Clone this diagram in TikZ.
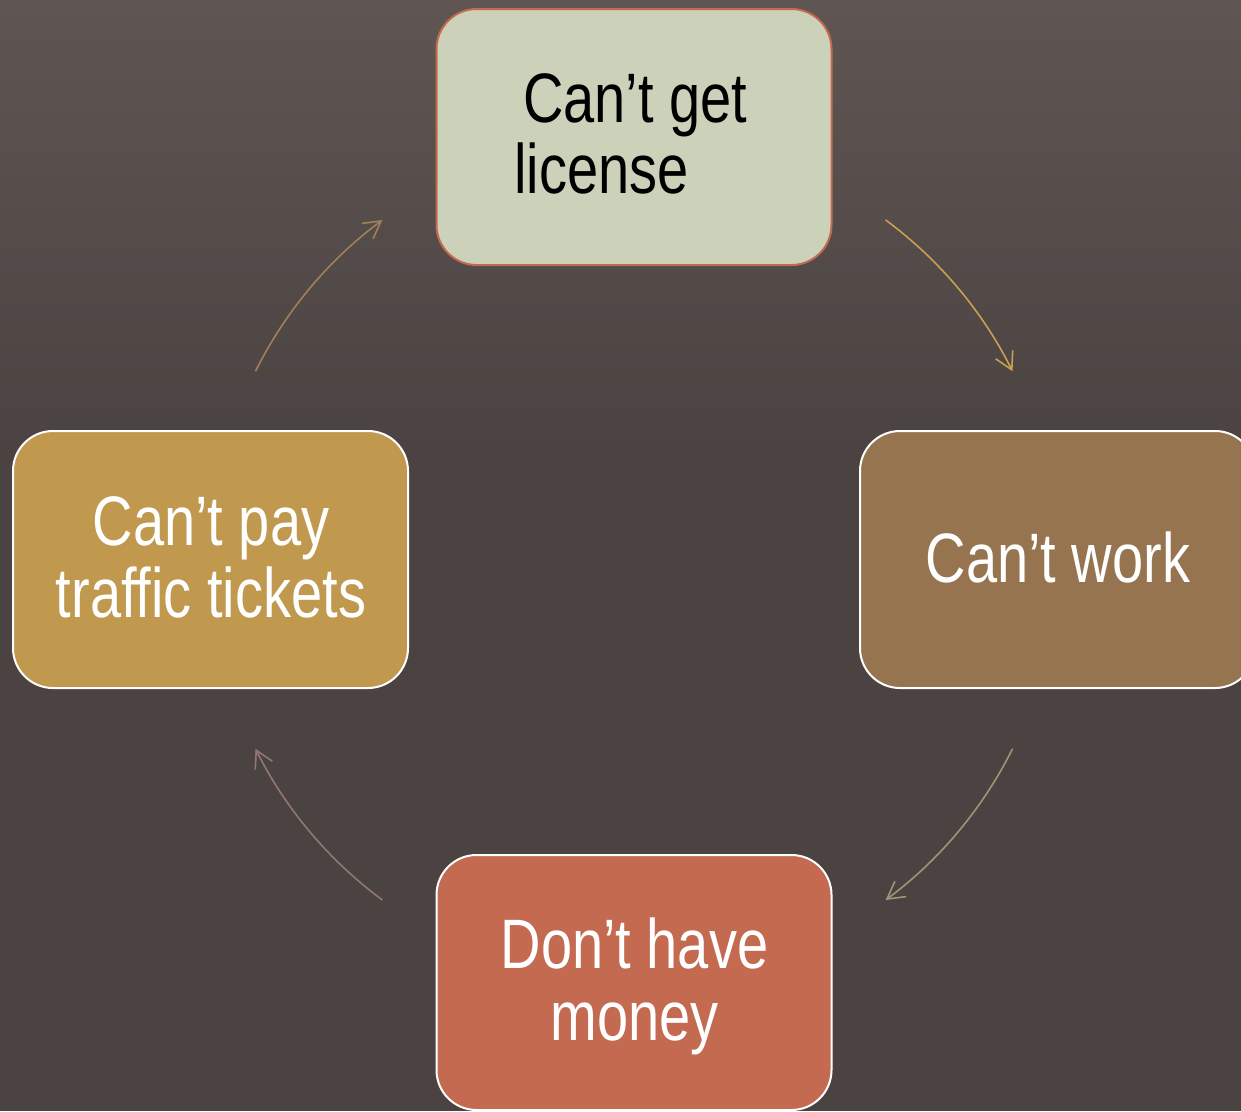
\documentclass[tikz,border=0pt]{standalone}
\usepackage{fontspec}
\setmainfont{Liberation Sans}[FakeStretch=0.8]
\usetikzlibrary{arrows.meta,calc}

\definecolor{bgtop}{HTML}{5F5654}
\definecolor{bgmid}{HTML}{4B4341}
\definecolor{sage}{HTML}{CCD1B9}
\definecolor{rust}{HTML}{C46A51}
\definecolor{umber}{HTML}{95744F}
\definecolor{ochre}{HTML}{C0984E}
\definecolor{rustedge}{HTML}{C3694F}
\definecolor{arrA}{HTML}{A08058}
\definecolor{arrB}{HTML}{C9A050}
\definecolor{arrC}{HTML}{9C9578}
\definecolor{arrD}{HTML}{917672}

\tikzset{
  card/.style={rectangle, rounded corners=40pt, line width=2pt,
    minimum width=395pt, minimum height=256pt, inner sep=0pt},
  lbl/.style={font=\fontsize{70}{72}\selectfont, inner sep=0pt, anchor=base},
  cyc/.style={line width=1.6pt, -{Straight Barb[length=17pt,width=19pt]}},
}

\begin{document}
\begin{tikzpicture}[x=1pt,y=-1pt]
  \useasboundingbox (0,0) rectangle (1241,1111);
  \clip (0,0) rectangle (1241,1111);

  % backdrop
  \fill[top color=bgtop, bottom color=bgmid] (0,0) rectangle (1241,450);
  \fill[bgmid] (0,449) rectangle (1241,1111);

  % four stages of the cycle
  \node[card, fill=sage, draw=rustedge] (lic) at (634,137) {};
  \node[card, fill=umber, draw=white, minimum height=257pt] (work) at (1057.5,559.5) {};
  \node[card, fill=rust, draw=white, minimum height=255pt] (money) at (634,982.5) {};
  \node[card, fill=ochre, draw=white, minimum height=257pt] (tix) at (210.5,559.5) {};

  % labels
  \node[lbl, anchor=base west, text=black] (licA) at (523,122) {Can’t get};
  \node[lbl, anchor=base west, text=black] (licB) at (514,193) {license};
  \node[lbl, text=white] (workA) at (1058,582) {Can’t work};
  \node[lbl, text=white] (moneyA) at (634.5,968) {Don’t have};
  \node[lbl, text=white] (moneyB) at (634.5,1040) {money};
  \node[lbl, text=white] (tixA) at (211,545) {Can’t pay};
  \node[lbl, text=white] (tixB) at (211,617) {traffic tickets};

  % circular arrows around the ring
  \coordinate (ctr) at (634,560);
  \coordinate (sA) at ($(ctr)+(206.5:423)$);
  \coordinate (sB) at ($(ctr)+(306.5:423)$);
  \coordinate (sC) at ($(ctr)+(26.5:423)$);
  \coordinate (sD) at ($(ctr)+(126.5:423)$);
  \draw[cyc, arrA] (sA) arc[start angle=206.5, end angle=233.5, radius=423];
  \draw[cyc, arrB] (sB) arc[start angle=306.5, end angle=333.5, radius=423];
  \draw[cyc, arrC] (sC) arc[start angle=26.5, end angle=53.5, radius=423];
  \draw[cyc, arrD] (sD) arc[start angle=126.5, end angle=153.5, radius=423];
\end{tikzpicture}
\end{document}
